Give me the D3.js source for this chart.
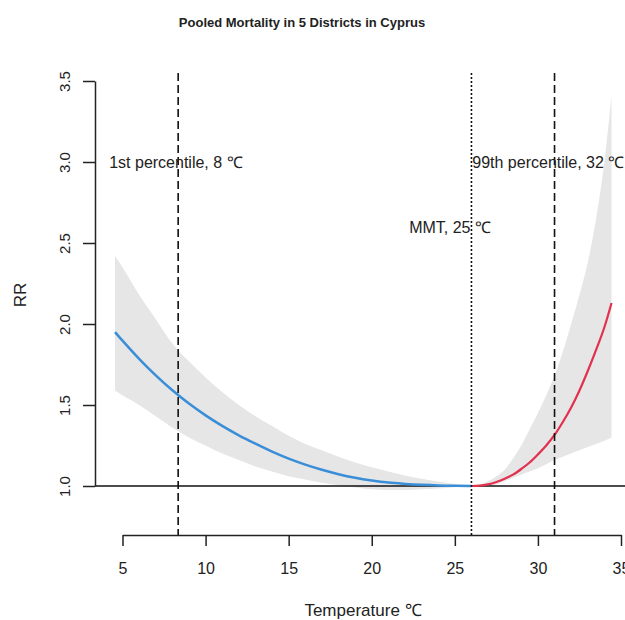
<!DOCTYPE html>
<html>
<head>
<meta charset="utf-8">
<script src="https://cdn.jsdelivr.net/npm/d3@7"></script>
<style>
  body { margin: 0; background: #fff; }
  text { font-family: "Liberation Sans", Arial, sans-serif; fill: #222; }
</style>
</head>
<body>
<div id="chart"></div>
<script>
// Data
var coldTemp = [4.55, 5, 6, 7, 8, 9, 10, 11, 12, 13, 14, 15, 16, 17, 18, 19, 20, 21, 22, 23, 24, 25, 26];
var coldRR   = [1.95, 1.897, 1.785, 1.683, 1.591, 1.509, 1.436, 1.371, 1.313, 1.261, 1.212, 1.169, 1.132, 1.10, 1.073, 1.051, 1.034, 1.021, 1.013, 1.007, 1.003, 1.001, 1.0];
var coldHigh = [2.42, 2.35, 2.18, 2.03, 1.88, 1.77, 1.67, 1.58, 1.50, 1.43, 1.37, 1.31, 1.26, 1.22, 1.18, 1.145, 1.115, 1.09, 1.065, 1.045, 1.028, 1.012, 1.0];
var coldLow  = [1.59, 1.56, 1.50, 1.43, 1.36, 1.30, 1.25, 1.20, 1.16, 1.12, 1.09, 1.06, 1.04, 1.02, 1.005, 0.99, 0.98, 0.975, 0.975, 0.98, 0.985, 0.993, 1.0];

var heatTemp = [26, 26.5, 27, 27.5, 28, 28.5, 29, 29.5, 30, 30.5, 31, 31.5, 32, 32.5, 33, 33.5, 34, 34.43];
var heatRR   = [1.0, 1.002, 1.01, 1.025, 1.045, 1.07, 1.105, 1.145, 1.195, 1.25, 1.315, 1.395, 1.485, 1.59, 1.71, 1.84, 1.98, 2.13];
var heatHigh = [1.0, 1.01, 1.03, 1.06, 1.1, 1.17, 1.25, 1.35, 1.45, 1.56, 1.68, 1.83, 2.0, 2.18, 2.38, 2.65, 3.0, 3.41];
var heatLow  = [1.0, 1.0, 1.0, 1.01, 1.03, 1.05, 1.07, 1.09, 1.11, 1.135, 1.16, 1.18, 1.2, 1.22, 1.24, 1.26, 1.28, 1.30];

var xTicks = [5, 10, 15, 20, 25, 30, 35];
var yTicks = [1.0, 1.5, 2.0, 2.5, 3.0, 3.5];

// reference temperatures: 1st percentile, MMT, 99th percentile
var refTemps = [8.35, 26.0, 31.0];
var refStyles = ["dashed", "dotted", "dashed"];

var labels = [
  { t: 4.2, rr: 3.0, text: "1st percentile, 8 \u2103" },
  { t: 22.25, rr: 2.6, text: "MMT, 25 \u2103" },
  { t: 26.05, rr: 3.0, text: "99th percentile, 32 \u2103" }
];

var svgWidth = 625;
var svgHeight = 620;

var svg = d3.select("#chart")
  .append("svg")
  .attr("width", svgWidth)
  .attr("height", svgHeight);

var x = d3.scaleLinear().domain([5, 35]).range([122.5, 621]);
var y = d3.scaleLinear().domain([1, 3.5]).range([486, 81]);

// title
svg.append("text")
  .attr("x", 302)
  .attr("y", 27)
  .attr("text-anchor", "middle")
  .style("font-weight", "bold")
  .style("font-size", "13px")
  .text("Pooled Mortality in 5 Districts in Cyprus");

// confidence bands
var area = d3.area()
  .x(d => x(d[0]))
  .y0(d => y(d[2]))
  .y1(d => y(d[1]))
  .curve(d3.curveMonotoneX);

svg.append("path")
  .datum(coldTemp.map((t, i) => [t, coldHigh[i], coldLow[i]]))
  .attr("d", area)
  .attr("fill", "#e6e6e6");

svg.append("path")
  .datum(heatTemp.map((t, i) => [t, heatHigh[i], heatLow[i]]))
  .attr("d", area)
  .attr("fill", "#e6e6e6");

// RR = 1 reference line
svg.append("line")
  .attr("x1", 95).attr("x2", svgWidth)
  .attr("y1", y(1)).attr("y2", y(1))
  .attr("stroke", "#111")
  .attr("stroke-width", 1.5);

// curves
var line = d3.line()
  .x(d => x(d[0]))
  .y(d => y(d[1]))
  .curve(d3.curveMonotoneX);

svg.append("path")
  .datum(coldTemp.map((t, i) => [t, coldRR[i]]))
  .attr("d", line)
  .attr("fill", "none")
  .attr("stroke", "#3a8ed8")
  .attr("stroke-width", 2.5);

svg.append("path")
  .datum(heatTemp.map((t, i) => [t, heatRR[i]]))
  .attr("d", line)
  .attr("fill", "none")
  .attr("stroke", "#e2304f")
  .attr("stroke-width", 2.2);

// vertical reference lines
svg.selectAll("line.ref")
  .data(refTemps)
  .enter()
  .append("line")
  .attr("class", "ref")
  .attr("x1", d => x(d)).attr("x2", d => x(d))
  .attr("y1", 73).attr("y2", 535)
  .attr("stroke", "#111")
  .attr("stroke-width", 1.6)
  .attr("stroke-dasharray", (d, i) => refStyles[i] === "dashed" ? "8,4" : "2,2");

// annotations
svg.selectAll("text.note")
  .data(labels)
  .enter()
  .append("text")
  .attr("class", "note")
  .attr("x", d => x(d.t))
  .attr("y", d => y(d.rr) + 6)
  .style("font-size", "16px")
  .text(d => d.text);

// x axis
var xAxis = svg.append("g")
  .attr("transform", "translate(0,535)")
  .call(d3.axisBottom(x).tickValues(xTicks).tickSize(11).tickSizeOuter(0).tickPadding(17));
xAxis.selectAll("text").style("font-size", "16px").style("fill", "#222");
xAxis.selectAll("path, line").attr("stroke", "#222").attr("stroke-width", 1.5);

// y axis
var yAxis = svg.append("g")
  .attr("transform", "translate(95,0)")
  .call(d3.axisLeft(y).tickValues(yTicks).tickFormat(d3.format(".1f")).tickSize(12).tickSizeOuter(0));
yAxis.selectAll("text")
  .attr("transform", "rotate(-90)")
  .attr("x", 0)
  .attr("y", -30)
  .attr("dy", "0.35em")
  .attr("text-anchor", "middle")
  .style("font-size", "15px")
  .style("fill", "#222");
yAxis.selectAll("path, line").attr("stroke", "#222").attr("stroke-width", 1.5);

// axis titles
svg.append("text")
  .attr("x", 363)
  .attr("y", 616)
  .attr("text-anchor", "middle")
  .style("font-size", "17px")
  .text("Temperature \u2103");

svg.append("text")
  .attr("transform", "translate(26,295) rotate(-90)")
  .attr("text-anchor", "middle")
  .style("font-size", "17px")
  .text("RR");
</script>
</body>
</html>
